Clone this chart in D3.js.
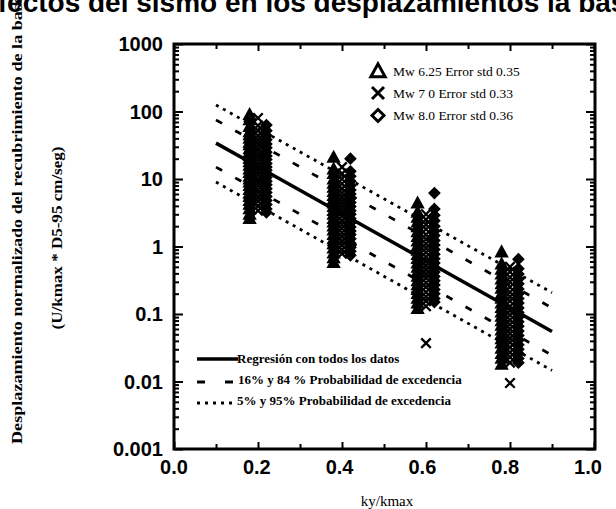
<!DOCTYPE html>
<html>
<head>
<meta charset="utf-8">
<script src="https://cdn.jsdelivr.net/npm/d3@7"></script>
<style>
  body { margin: 0; background: #fff; }
  svg { display: block; }
</style>
</head>
<body>
<script>
// ---- data
const title = "Efectos del sismo en los desplazamientos la base";
const yTicks = [0.001, 0.01, 0.1, 1, 10, 100, 1000];
const yTickLabels = ["0.001", "0.01", "0.1", "1", "10", "100", "1000"];
const xTicks = [0, 0.2, 0.4, 0.6, 0.8, 1.0];
const xTickLabels = ["0.0", "0.2", "0.4", "0.6", "0.8", "1.0"];

// x positions of each magnitude group (columns slightly offset)
const mw625X = [0.18, 0.38, 0.58, 0.78];
const mw70X = [0.20, 0.40, 0.60, 0.80];
const mw80X = [0.22, 0.42, 0.62, 0.82];

// y values per column (U/kmax * D5-95)
const mw625Y = [
  [90, 75, 60, 50, 45, 40, 35, 32, 28, 25, 22, 20, 18, 16, 14, 12.5, 11, 10, 9, 8, 7, 6.2, 5.5, 4.8, 4.2, 3.6, 3, 2.6],
  [21, 14, 12, 10, 8.6, 7.5, 6.5, 5.7, 5, 4.4, 3.9, 3.4, 3, 2.6, 2.3, 2, 1.75, 1.5, 1.3, 1.1, 0.95, 0.8, 0.68, 0.58],
  [4.4, 3.2, 2.7, 2.3, 1.95, 1.65, 1.4, 1.2, 1.02, 0.88, 0.76, 0.66, 0.57, 0.49, 0.42, 0.36, 0.31, 0.27, 0.23, 0.2, 0.17, 0.145, 0.12],
  [0.83, 0.55, 0.46, 0.39, 0.33, 0.28, 0.24, 0.2, 0.17, 0.145, 0.125, 0.107, 0.092, 0.079, 0.068, 0.058, 0.05, 0.043, 0.037, 0.031, 0.026, 0.022, 0.018]
];
const mw70Y = [
  [80, 62, 52, 44, 38, 33, 29, 26, 23, 20.5, 18, 16, 14.5, 13, 11.5, 10, 9, 8, 7, 6.2, 5.4, 4.7, 4, 3.4],
  [15, 12, 10, 8.5, 7.2, 6.2, 5.4, 4.7, 4.1, 3.6, 3.2, 2.8, 2.4, 2.1, 1.85, 1.6, 1.4, 1.2, 1.05, 0.9, 0.78],
  [3, 2.5, 2.1, 1.8, 1.5, 1.28, 1.1, 0.95, 0.82, 0.7, 0.6, 0.52, 0.45, 0.39, 0.34, 0.29, 0.25, 0.21, 0.18, 0.155, 0.13, 0.037],
  [0.5, 0.42, 0.35, 0.3, 0.25, 0.21, 0.18, 0.155, 0.13, 0.112, 0.096, 0.082, 0.07, 0.06, 0.051, 0.044, 0.038, 0.032, 0.027, 0.023, 0.019, 0.0095]
];
const mw80Y = [
  [63, 52, 44, 38, 33, 29, 25, 22, 19.5, 17, 15, 13.5, 12, 10.5, 9.3, 8.2, 7.2, 6.3, 5.5, 4.8, 4.2, 3.6, 3.2],
  [20, 13, 11, 9.3, 8, 6.9, 6, 5.2, 4.5, 3.9, 3.4, 3, 2.6, 2.25, 1.95, 1.7, 1.5, 1.3, 1.12, 0.97, 0.85, 0.74],
  [6.2, 3.6, 2.9, 2.4, 2, 1.7, 1.45, 1.23, 1.05, 0.9, 0.77, 0.66, 0.57, 0.49, 0.42, 0.36, 0.31, 0.27, 0.23, 0.2, 0.17, 0.15],
  [0.65, 0.47, 0.39, 0.33, 0.28, 0.235, 0.2, 0.17, 0.145, 0.123, 0.105, 0.09, 0.077, 0.066, 0.056, 0.048, 0.041, 0.035, 0.03, 0.026, 0.022, 0.019]
];

// regression and probability lines (end points)
const lineX = [0.1, 0.9];
const regression = [34, 0.055];
const p84 = [75, 0.123];
const p16 = [15, 0.0245];
const p95 = [125, 0.207];
const p05 = [9, 0.0146];

const legendTop = ["Mw 6.25 Error std 0.35", "Mw 7 0 Error std 0.33", "Mw 8.0 Error std 0.36"];
const legendBottom = ["Regresión con todos los datos", "16% y 84 % Probabilidad de excedencia", "5% y 95% Probabilidad de excedencia"];

//---- drawing
const width = 616, height = 509;
const plotL = 174, plotR = 594, plotT = 44, plotB = 449;

const svg = d3.select("body").append("svg")
  .attr("width", width)
  .attr("height", height);

const x = d3.scaleLinear().domain([0, 1]).range([plotL, plotR]);
const y = d3.scaleLog().domain([0.001, 1000]).range([plotB, plotT]);

// title, cut off at top of picture like the source
const titleText = svg.append("text")
  .attr("y", 12)
  .attr("font-family", "Liberation Sans, Arial, sans-serif")
  .attr("font-weight", "bold")
  .attr("font-size", 28)
  .text(title);
titleText.attr("x", 88 - titleText.node().getSubStringLength(0, 8));

// probability lines
const line = d3.line()
  .x((d, i) => x(lineX[i]))
  .y(d => y(d));

svg.append("path").datum(regression)
  .attr("d", line).attr("fill", "none")
  .attr("stroke", "black").attr("stroke-width", 3.5);

[p84, p16].forEach(s => {
  svg.append("path").datum(s)
    .attr("d", line).attr("fill", "none")
    .attr("stroke", "black").attr("stroke-width", 2.8)
    .attr("stroke-dasharray", "7,15");
});
[p95, p05].forEach(s => {
  svg.append("path").datum(s)
    .attr("d", line).attr("fill", "none")
    .attr("stroke", "black").attr("stroke-width", 2.8)
    .attr("stroke-dasharray", "3,5");
});

// markers
function triPath(s) {
  return `M0,${-s * 0.55}L${s * 0.55},${s * 0.45}L${-s * 0.55},${s * 0.45}Z`;
}
function xPath(s) {
  const h = s / 2;
  return `M${-h},${-h}L${h},${h}M${-h},${h}L${h},${-h}`;
}
function diaPath(s) {
  const h = s / 2;
  return `M0,${-h}L${h},0L0,${h}L${-h},0Z`;
}

const groups = [
  { xs: mw625X, ys: mw625Y, shape: triPath },
  { xs: mw70X, ys: mw70Y, shape: xPath },
  { xs: mw80X, ys: mw80Y, shape: diaPath }
];

groups.forEach(g => {
  const pts = [];
  g.ys.forEach((col, i) => col.forEach(v => pts.push({ x: g.xs[i], y: v })));
  svg.append("g").selectAll("path")
    .data(pts)
    .enter()
    .append("path")
      .attr("transform", d => `translate(${x(d.x)},${y(d.y)})`)
      .attr("d", g.shape(9.5))
      .attr("fill", "black")
      .attr("stroke", "black")
      .attr("stroke-width", 2.3);
});

// frame
svg.append("rect")
  .attr("x", plotL).attr("y", plotT)
  .attr("width", plotR - plotL + 1).attr("height", plotB - plotT)
  .attr("fill", "none").attr("stroke", "black").attr("stroke-width", 3);

// y ticks (inward on left and right)
const minorY = [];
for (let e = -3; e < 3; e++) {
  for (let m = 2; m <= 9; m++) minorY.push(m * Math.pow(10, e));
}
const yAxisL = d3.axisRight(y).tickValues(yTicks).tickSize(9).tickFormat("");
const yAxisLm = d3.axisRight(y).tickValues(minorY).tickSize(5).tickFormat("");
const yAxisR = d3.axisLeft(y).tickValues(yTicks).tickSize(9).tickFormat("");
const yAxisRm = d3.axisLeft(y).tickValues(minorY).tickSize(5).tickFormat("");
[[yAxisL, plotL], [yAxisLm, plotL], [yAxisR, plotR + 1], [yAxisRm, plotR + 1]].forEach(([ax, px]) => {
  const g = svg.append("g").attr("transform", `translate(${px},0)`).call(ax);
  g.select(".domain").remove();
  g.selectAll("line").attr("stroke-width", 2);
});

// x ticks (inward on bottom and top)
const minorX = [0.1, 0.3, 0.5, 0.7, 0.9];
const xAxisB = d3.axisTop(x).tickValues(xTicks).tickSize(7).tickFormat("");
const xAxisBm = d3.axisTop(x).tickValues(minorX).tickSize(5).tickFormat("");
const xAxisT = d3.axisBottom(x).tickValues(xTicks).tickSize(7).tickFormat("");
const xAxisTm = d3.axisBottom(x).tickValues(minorX).tickSize(5).tickFormat("");
[[xAxisB, plotB], [xAxisBm, plotB], [xAxisT, plotT], [xAxisTm, plotT]].forEach(([ax, py]) => {
  const g = svg.append("g").attr("transform", `translate(0,${py})`).call(ax);
  g.select(".domain").remove();
  g.selectAll("line").attr("stroke-width", 2);
});

// tick labels
svg.append("g").selectAll("text")
  .data(yTicks)
  .enter()
  .append("text")
    .attr("x", plotL - 11)
    .attr("y", d => y(d) + 7)
    .attr("text-anchor", "end")
    .attr("font-family", "Liberation Sans, Arial, sans-serif")
    .attr("font-weight", "bold")
    .attr("font-size", 20)
    .text((d, i) => yTickLabels[i]);

svg.append("g").selectAll("text")
  .data(xTicks)
  .enter()
  .append("text")
    .attr("x", d => x(d) - d * 6)
    .attr("y", 474)
    .attr("text-anchor", "middle")
    .attr("font-family", "Liberation Sans, Arial, sans-serif")
    .attr("font-weight", "bold")
    .attr("font-size", 20)
    .text((d, i) => xTickLabels[i]);

// axis titles
svg.append("text")
  .attr("x", 387).attr("y", 506)
  .attr("text-anchor", "middle")
  .attr("font-family", "Liberation Serif, Times New Roman, serif")
  .attr("font-size", 15)
  .text("ky/kmax");

svg.append("text")
  .attr("transform", "translate(22,444) rotate(-90)")
  .attr("font-family", "Liberation Serif, Times New Roman, serif")
  .attr("font-weight", "bold")
  .attr("font-size", 15)
  .attr("textLength", 448)
  .attr("lengthAdjust", "spacingAndGlyphs")
  .text("Desplazamiento normalizado del recubrimiento de la base");

svg.append("text")
  .attr("transform", "translate(62,238) rotate(-90)")
  .attr("text-anchor", "middle")
  .attr("font-family", "Liberation Serif, Times New Roman, serif")
  .attr("font-weight", "bold")
  .attr("font-size", 15)
  .attr("textLength", 183)
  .attr("lengthAdjust", "spacingAndGlyphs")
  .text("(U/kmax * D5-95 cm/seg)");

// legend, top right
const legTopY = [71, 93, 115.5];
const legShapes = [triPath, xPath, diaPath];
const legSizes = [13, 12, 12];
legendTop.forEach((t, i) => {
  svg.append("path")
    .attr("transform", `translate(378,${legTopY[i]})`)
    .attr("d", legShapes[i](legSizes[i]))
    .attr("fill", "none")
    .attr("stroke", "black")
    .attr("stroke-width", 3);
  svg.append("text")
    .attr("x", 393).attr("y", legTopY[i] + 4.5)
    .attr("font-family", "Liberation Serif, Times New Roman, serif")
    .attr("font-size", 13.5)
    .text(t);
});

// legend, bottom left
const legBotY = [359, 380, 401];
svg.append("line")
  .attr("x1", 197).attr("x2", 238)
  .attr("y1", legBotY[0]).attr("y2", legBotY[0])
  .attr("stroke", "black").attr("stroke-width", 3.5);
svg.append("line")
  .attr("x1", 197).attr("x2", 236)
  .attr("y1", legBotY[1] + 2).attr("y2", legBotY[1] + 2)
  .attr("stroke", "black").attr("stroke-width", 2.8)
  .attr("stroke-dasharray", "8,20");
svg.append("line")
  .attr("x1", 197).attr("x2", 236)
  .attr("y1", legBotY[2] + 2).attr("y2", legBotY[2] + 2)
  .attr("stroke", "black").attr("stroke-width", 2.8)
  .attr("stroke-dasharray", "3,5");
const legBotX = [237, 238, 237];
legendBottom.forEach((t, i) => {
  svg.append("text")
    .attr("x", legBotX[i]).attr("y", legBotY[i] + 4)
    .attr("font-family", "Liberation Serif, Times New Roman, serif")
    .attr("font-weight", "bold")
    .attr("font-size", 13)
    .text(t);
});
</script>
</body>
</html>
